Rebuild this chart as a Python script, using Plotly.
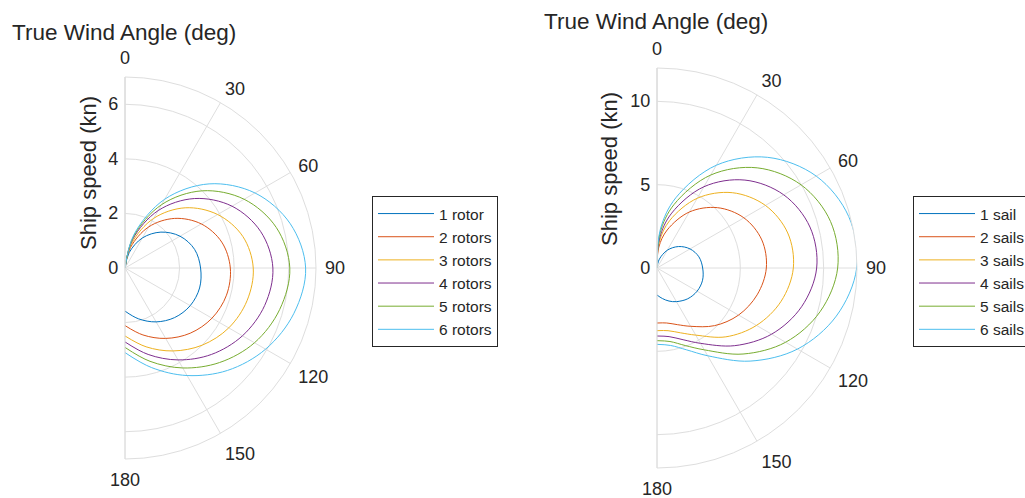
import plotly.graph_objects as go

# ---------------- data ----------------
theta_left = [0, 15, 30, 45, 60, 75, 90, 105, 120, 135, 150, 165, 180]
rotor_names = ["1 rotor", "2 rotors", "3 rotors", "4 rotors", "5 rotors", "6 rotors"]
rotor_1 = [0, 0.58, 1.27, 1.86, 2.33, 2.64, 2.77, 2.83, 2.76, 2.57, 2.28, 1.93, 1.58]
rotor_2 = [0, 0.78, 1.74, 2.57, 3.23, 3.67, 3.86, 3.85, 3.68, 3.38, 2.98, 2.54, 2.11]
rotor_3 = [0, 0.93, 2.10, 3.12, 3.92, 4.47, 4.70, 4.63, 4.39, 4.00, 3.51, 2.99, 2.49]
rotor_4 = [0, 1.09, 2.43, 3.60, 4.53, 5.15, 5.42, 5.30, 4.97, 4.48, 3.89, 3.28, 2.71]
rotor_5 = [0, 1.18, 2.68, 4.00, 5.04, 5.74, 6.04, 5.87, 5.48, 4.90, 4.23, 3.54, 2.91]
rotor_6 = [0, 1.27, 2.91, 4.36, 5.50, 6.27, 6.62, 6.41, 5.95, 5.31, 4.55, 3.78, 3.10]

theta_right = [0, 5, 15, 30, 45, 60, 75, 90, 105, 120, 135, 150, 160, 170, 180]
sail_names = ["1 sail", "2 sails", "3 sails", "4 sails", "5 sails", "6 sails"]
sail_1 = [0, 0.07, 0.55, 1.23, 1.82, 2.29, 2.60, 2.74, 2.83, 2.78, 2.61, 2.33, 2.11, 1.86, 1.62]
sail_2 = [0, 1.26, 2.36, 3.88, 5.12, 6.02, 6.51, 6.56, 6.22, 5.65, 4.89, 4.04, 3.62, 3.35, 3.30]
sail_3 = [0, 1.57, 2.95, 4.83, 6.39, 7.51, 8.12, 8.18, 7.71, 6.89, 5.84, 4.65, 4.14, 3.82, 3.76]
sail_4 = [0, 1.80, 3.41, 5.63, 7.46, 8.78, 9.50, 9.58, 8.98, 7.94, 6.59, 5.22, 4.58, 4.18, 4.08]
sail_5 = [0, 2.12, 3.94, 6.44, 8.50, 9.98, 10.78, 10.84, 10.13, 8.91, 7.30, 5.67, 4.95, 4.48, 4.36]
sail_6 = [0, 2.34, 4.36, 7.12, 9.39, 11.03, 11.91, 11.98, 11.14, 9.73, 7.90, 6.08, 5.23, 4.72, 4.58]

angle_ticks = [0, 30, 60, 90, 120, 150, 180]
angle_labels = ["0", "30", "60", "90", "120", "150", "180"]
left_r_ticks = [0, 2, 4, 6]
right_r_ticks = [0, 5, 10]
left_r_max = 7
right_r_max = 12

colors = ["#0072BD", "#D95319", "#EDB120", "#7E2F8E", "#77AC30", "#4DBEEE"]

# ---------------- style ----------------
W, H = 1025, 498
FONT = "Liberation Sans, Arial, Helvetica, sans-serif"
TXT = "#262626"
GRID = "#dedede"

fig = go.Figure()
for name, r, c in zip(rotor_names, [rotor_1, rotor_2, rotor_3, rotor_4, rotor_5, rotor_6], colors):
    fig.add_trace(go.Scatterpolar(r=r, theta=theta_left, mode="lines", name=name,
                                  line=dict(color=c, width=1, shape="spline", smoothing=1),
                                  subplot="polar", legend="legend"))
for name, r, c in zip(sail_names, [sail_1, sail_2, sail_3, sail_4, sail_5, sail_6], colors):
    fig.add_trace(go.Scatterpolar(r=r, theta=theta_right, mode="lines", name=name,
                                  line=dict(color=c, width=1, shape="spline", smoothing=1),
                                  subplot="polar2", legend="legend2"))


def polar_layout(xd, yd, rmax, rticks):
    return dict(
        domain=dict(x=xd, y=yd),
        sector=[-90, 90],
        bgcolor="white",
        angularaxis=dict(rotation=90, direction="clockwise", tickmode="array",
                         tickvals=angle_ticks, ticktext=angle_labels,
                         showline=True, linecolor=GRID, linewidth=1,
                         gridcolor=GRID, gridwidth=1,
                         ticks="outside", ticklen=5, tickcolor="rgba(0,0,0,0)",
                         tickfont=dict(family=FONT, size=18, color=TXT)),
        radialaxis=dict(range=[0, rmax], tickmode="array", tickvals=rticks,
                        ticktext=[str(v) for v in rticks],
                        angle=90, side="counterclockwise", tickangle=90,
                        showline=True, linecolor=GRID, linewidth=1,
                        gridcolor=GRID, gridwidth=1, ticks="",
                        tickfont=dict(family=FONT, size=18, color=TXT)),
    )


def legend_layout(x_px, y_px):
    return dict(x=x_px / W, y=1 - y_px / H, xanchor="left", yanchor="top",
                bordercolor=TXT, borderwidth=1, bgcolor="white",
                font=dict(family=FONT, size=15.5, color=TXT),
                tracegroupgap=0, itemwidth=56)


fig.update_layout(
    width=W, height=H,
    template="none",
    paper_bgcolor="white",
    margin=dict(l=0, r=0, t=0, b=0, autoexpand=False),
    font=dict(family=FONT, color=TXT),
    showlegend=True,
    polar=polar_layout([125 / W, 316 / W], [39 / H, 421 / H], left_r_max, left_r_ticks),
    polar2=polar_layout([657 / W, 857 / W], [30 / H, 430 / H], right_r_max, right_r_ticks),
    legend=legend_layout(372, 196),
    legend2=legend_layout(913, 196),
    annotations=[
        dict(text="True Wind Angle (deg)", x=10 / W, y=1 - 32 / H, xref="paper", yref="paper",
             xanchor="left", yanchor="middle", showarrow=False,
             font=dict(family=FONT, size=22.5, color=TXT)),
        dict(text="True Wind Angle (deg)", x=542 / W, y=1 - 22 / H, xref="paper", yref="paper",
             xanchor="left", yanchor="middle", showarrow=False,
             font=dict(family=FONT, size=22.5, color=TXT)),
        dict(text="Ship speed (kn)", x=88 / W, y=1 - 173 / H, xref="paper", yref="paper",
             xanchor="center", yanchor="middle", showarrow=False, textangle=-90,
             font=dict(family=FONT, size=22, color=TXT)),
        dict(text="Ship speed (kn)", x=609 / W, y=1 - 169 / H, xref="paper", yref="paper",
             xanchor="center", yanchor="middle", showarrow=False, textangle=-90,
             font=dict(family=FONT, size=22, color=TXT)),
    ],
)

fig.write_html("out.html",
               config={"displayModeBar": False},
               post_script="document.body.style.margin='0px';document.body.style.overflow='hidden';")
